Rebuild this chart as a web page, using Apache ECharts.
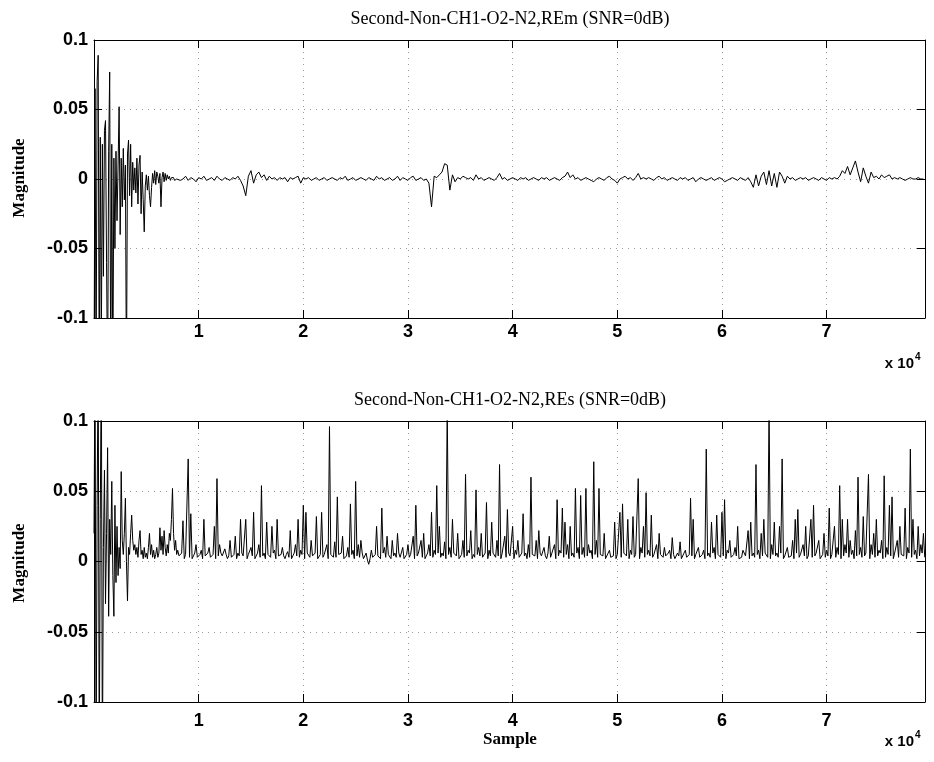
<!DOCTYPE html>
<html>
<head>
<meta charset="utf-8">
<script src="https://cdn.jsdelivr.net/npm/echarts@6/dist/echarts.min.js"></script>
<style>
  html, body { margin: 0; background: #fff; }
  #chart { width: 934px; height: 762px; }
</style>
</head>
<body>
<div id="chart"></div>
<script>
// 采样点范围与步长（前 8000 点每 100 点取一值，其后 REm 每 250 点、REs 每 125 点）
const X_MAX = 79400;
const HEAD_STEP = 100;
const TAIL_START = 8000;
const REM_TAIL_STEP = 250;
const RES_TAIL_STEP = 125;

// REm 幅值，单位 1e-3
const remHead = [
  -150, 65, -150, 70, 89, -150, 30, -120, 25, -70,
  35, 42, -60, -150, 20, 77, -150, 25, -150, 15,
  -50, 20, -30, 10, 52, -40, 15, -20, 22, -15,
  10, -150, 18, 28, -12, 25, -20, 12, -8, 8,
  -10, 15, -18, 10, 17, -25, 5, -15, -38, -5,
  3, -8, 2, -12, -20, -6, 4, -3, 6, -4,
  5, 2, -3, 4, -20, 1, 5, -2, 4, -1,
  3, 0, 2, -1, 1, 0, 1, -1, 0, 0
];
const remTail = [
  1, -1, 0, 2, -1, 1, 0, -2, 1, 0, 2, -1, 0, 1, -1, 2, 0, -1, 1, 0,
  -1, 1, 0, 2, -1, -5, -12, 2, 6, -3, 3, 5, 1, 3, -1, 2, 0, 1, -1, 1,
  0, 1, -2, 1, 0, 1, 2, -3, 1, 0, 1, -1, 0, 1, -1, 0, 1, -1, 0, 1,
  0, -1, 1, 0, 2, -1, 0, 1, -1, 0, 1, 0, -1, 1, 0, -1, 2, 0, 1, -1,
  0, 1, -1, 0, 2, -1, 1, 0, -1, 1, 2, -1, 0, 1, -1, 0, -3, -20, 2, 1,
  3, 5, 11, 10, -8, 3, -2, 1, 0, 2, 1, 0, 1, -1, 3, 0, 1, -1, 0, 1,
  0, -1, 1, 4, 0, 1, -1, 0, 1, 0, -1, 1, 0, 1, -1, 0, 1, 0, -1, 1,
  0, 1, -1, 0, 1, 0, -1, 1, 2, 5, 1, 3, 0, 1, -1, 0, 1, 0, -1, -2,
  0, 1, 0, -1, 1, 2, 0, -1, -3, 0, 1, 2, 0, 1, -1, 1, 4, 0, 1, 0,
  1, 0, -1, 1, 2, 0, 1, -1, 0, 1, 0, -1, 1, 0, 1, -1, 0, 1, -2, 0,
  1, 0, -1, 0, 1, -1, 0, 1, 0, -2, -1, 0, 1, 0, -1, 1, 0, -1, 1, -2,
  -6, 3, -5, 2, 5, -4, 6, -5, 4, -6, 5, 2, -3, 2, 0, 1, -1, 0, 1, 0,
  1, -1, 0, 1, 0, -1, 1, 0, -1, 1, 0, 1, 0, 2, 6, 4, 9, 3, 8, 13,
  5, -2, 8, 2, -3, 5, 1, 2, 0, 3, 1, 2, 3, 0, 1, 0, 1, 0, -1, 0,
  1, 0, 0, 1, 0, 0
];

// REs 幅值，单位 1e-3
const resHead = [
  20, 150, -150, 40, 150, -150, 30, 150, -150, 10,
  65, -30, 20, 81, -39, 30, 5, 57, -10, -39,
  40, -15, 25, -10, 10, -5, 64, 15, 5, 20,
  45, 0, -28, 10, 5, 20, 33, 15, 8, 12,
  5, 10, 3, 15, 22, 5, 8, 2, 10, 3,
  6, 2, 10, 20, 5, 12, 3, 8, 2, 5,
  10, 3, 6, 24, 8, 18, 5, 22, 10, 4,
  12, 6, 20, 15, 30, 52, 20, 8, 15, 5
];
const resTail = [
  8, 4, 3, 6, 29, 2, 5, 5, 73, 3, 34, 2, 4, 6, 12, 3, 3, 5, 8, 2, 30, 4, 5, 6, 10, 3, 2, 5, 25, 2, 59, 4, 12, 6, 4, 3, 9, 5, 2, 4,
  15, 3, 3, 5, 18, 2, 6, 4, 30, 6, 4, 3, 30, 2, 5, 5, 10, 4, 35, 2, 3, 6, 12, 3, 54, 4, 6, 2, 28, 5, 4, 3, 25, 6, 8, 2, 30, 4, 3, 5,
  10, 4, 2, 5, 7, 3, 22, 2, 4, 6, 12, 4, 30, 3, 8, 5, 40, 2, 35, 6, 6, 3, 15, 4, 4, 6, 32, 2, 3, 5, 35, 3, 5, 4, 12, 2, 96, 5, 6, 3,
  14, 3, 46, 5, 4, 6, 18, 2, 3, 4, 10, 3, 41, 5, 8, 2, 57, 4, 12, 3, 15, 6, 2, 4, 6, 1, -2, 2, 8, 3, 3, 5, 25, 4, 5, 2, 38, 6, 10, 3,
  18, 5, 4, 2, 15, 4, 6, 3, 20, 6, 3, 4, 10, 2, 2, 5, 12, 3, 5, 6, 18, 2, 40, 4, 6, 5, 15, 3, 20, 2, 4, 6, 12, 4, 35, 3, 8, 5, 54, 6,
  25, 3, 6, 4, 14, 2, 110, 5, 10, 3, 30, 6, 5, 4, 20, 2, 3, 5, 15, 3, 62, 4, 8, 6, 22, 2, 5, 3, 51, 5, 10, 4, 20, 3, 4, 6, 42, 2, 8, 4,
  28, 6, 5, 3, 15, 4, 69, 2, 6, 5, 18, 3, 37, 6, 4, 4, 25, 2, 8, 5, 15, 3, 3, 6, 34, 4, 6, 2, 12, 3, 60, 5, 5, 4, 15, 2, 22, 6, 4, 3,
  10, 4, 2, 6, 18, 3, 6, 5, 12, 2, 44, 4, 8, 6, 38, 3, 28, 5, 12, 2, 25, 4, 6, 3, 52, 6, 10, 2, 47, 5, 10, 3, 52, 4, 12, 6, 8, 2, 71, 5,
  15, 3, 52, 5, 6, 4, 20, 2, 3, 6, 8, 3, 2, 4, 28, 2, 5, 5, 35, 3, 41, 6, 6, 4, 30, 2, 8, 5, 32, 3, 5, 4, 59, 2, 10, 6, 25, 3, 49, 5,
  8, 4, 33, 3, 5, 6, 12, 2, 20, 5, 4, 3, 10, 4, 3, 6, 8, 2, 17, 5, 2, 3, 6, 4, 14, 2, 3, 6, 8, 3, 4, 5, 45, 4, 30, 2, 5, 6, 10, 3,
  3, 5, 8, 2, 80, 4, 6, 3, 28, 6, 10, 2, 33, 5, 4, 3, 35, 4, 44, 2, 8, 6, 15, 3, 3, 5, 10, 4, 25, 2, 2, 3, 8, 6, 4, 5, 22, 2, 28, 4,
  6, 3, 69, 5, 8, 2, 20, 4, 30, 6, 5, 3, 110, 2, 12, 5, 28, 4, 6, 3, 25, 6, 73, 2, 4, 5, 10, 3, 3, 4, 15, 2, 30, 6, 37, 3, 5, 5, 12, 4,
  25, 2, 4, 5, 30, 3, 40, 4, 6, 6, 15, 2, 3, 5, 20, 3, 8, 4, 38, 2, 5, 6, 25, 3, 10, 5, 54, 2, 30, 4, 12, 6, 30, 3, 15, 5, 8, 2, 22, 4,
  60, 5, 10, 3, 32, 4, 6, 6, 62, 2, 12, 5, 20, 3, 30, 4, 8, 6, 15, 2, 61, 3, 10, 5, 40, 4, 46, 2, 6, 6, 15, 3, 25, 5, 5, 4, 38, 2, 10, 6,
  80, 3, 30, 5, 8, 2, 25, 4, 12, 6, 20, 3
];

const titles = ['Second-Non-CH1-O2-N2,REm (SNR=0dB)', 'Second-Non-CH1-O2-N2,REs (SNR=0dB)'];

function buildSeries(head, tail, tailStep) {
  const out = [];
  head.forEach((v, i) => out.push([i * HEAD_STEP, v / 1000]));
  tail.forEach((v, i) => out.push([TAIL_START + i * tailStep, v / 1000]));
  return out;
}

const sansBold = { fontFamily: '"Liberation Sans", Arial, sans-serif', fontWeight: 'bold', fontSize: 18, color: '#000' };
const gridLine = { show: true, lineStyle: { color: '#9a9a9a', type: [1, 5], width: 1 } };
const frameLine = { show: true, onZero: false, lineStyle: { color: '#000', width: 1 } };
const inTick = { show: true, inside: true, length: 8, lineStyle: { color: '#000' } };

const grids = [
  { left: 94, right: 9, top: 40, height: 278 },
  { left: 94, right: 9, top: 421, height: 281 }
];
const labelMargin = [5, 10];

const xAxis = [], yAxis = [];
grids.forEach((g, i) => {
  xAxis.push({
    gridIndex: i, type: 'value', min: 0, max: X_MAX, interval: 10000,
    axisLine: frameLine, axisTick: inTick, splitLine: gridLine,
    axisLabel: {
      ...sansBold, margin: labelMargin[i], showMinLabel: false, showMaxLabel: false,
      formatter: v => (v > 0 && v % 10000 === 0) ? String(v / 10000) : ''
    }
  });
  xAxis.push({
    gridIndex: i, type: 'value', position: 'top', min: 0, max: X_MAX, interval: 10000,
    axisLine: frameLine, axisTick: inTick, axisLabel: { show: false }, splitLine: { show: false }
  });
  yAxis.push({
    gridIndex: i, type: 'value', min: -0.1, max: 0.1, interval: 0.05,
    axisLine: frameLine, axisTick: inTick, splitLine: gridLine,
    axisLabel: { ...sansBold, margin: 6, formatter: v => String(Math.round(v * 100) / 100) }
  });
  yAxis.push({
    gridIndex: i, type: 'value', position: 'right', min: -0.1, max: 0.1, interval: 0.05,
    axisLine: frameLine, axisTick: inTick, axisLabel: { show: false }, splitLine: { show: false }
  });
});

const serif = '"Liberation Serif", "Times New Roman", serif';
const sansFont = '"Liberation Sans", Arial, sans-serif';
const graphic = [
  { type: 'text', x: 510, y: 19, style: { text: titles[0], font: `18px ${serif}`, fill: '#000', align: 'center', verticalAlign: 'middle' } },
  { type: 'text', x: 510, y: 400, style: { text: titles[1], font: `18px ${serif}`, fill: '#000', align: 'center', verticalAlign: 'middle' } },
  { type: 'text', x: 20, y: 178, rotation: Math.PI / 2, style: { text: 'Magnitude', font: `bold 17px ${serif}`, fill: '#000', align: 'center', verticalAlign: 'middle' } },
  { type: 'text', x: 20, y: 563, rotation: Math.PI / 2, style: { text: 'Magnitude', font: `bold 17px ${serif}`, fill: '#000', align: 'center', verticalAlign: 'middle' } },
  { type: 'text', x: 510, y: 740, style: { text: 'Sample', font: `bold 17px ${serif}`, fill: '#000', align: 'center', verticalAlign: 'middle' } },
  { type: 'text', x: 914, y: 364, style: { text: 'x 10', font: `bold 15px ${sansFont}`, fill: '#000', align: 'right', verticalAlign: 'middle' } },
  { type: 'text', x: 915, y: 357, style: { text: '4', font: `bold 10px ${sansFont}`, fill: '#000', align: 'left', verticalAlign: 'middle' } },
  { type: 'text', x: 914, y: 742, style: { text: 'x 10', font: `bold 15px ${sansFont}`, fill: '#000', align: 'right', verticalAlign: 'middle' } },
  { type: 'text', x: 915, y: 735, style: { text: '4', font: `bold 10px ${sansFont}`, fill: '#000', align: 'left', verticalAlign: 'middle' } }
];

const lineSeries = (data, idx) => ({
  type: 'line', xAxisIndex: idx * 2, yAxisIndex: idx * 2, data,
  showSymbol: false, clip: true, lineStyle: { color: '#000', width: 1 }
});

const chart = echarts.init(document.getElementById('chart'));
chart.setOption({
  animation: false,
  backgroundColor: '#fff',
  grid: grids,
  xAxis, yAxis, graphic,
  series: [
    lineSeries(buildSeries(remHead, remTail, REM_TAIL_STEP), 0),
    lineSeries(buildSeries(resHead, resTail, RES_TAIL_STEP), 1)
  ]
});
</script>
</body>
</html>
